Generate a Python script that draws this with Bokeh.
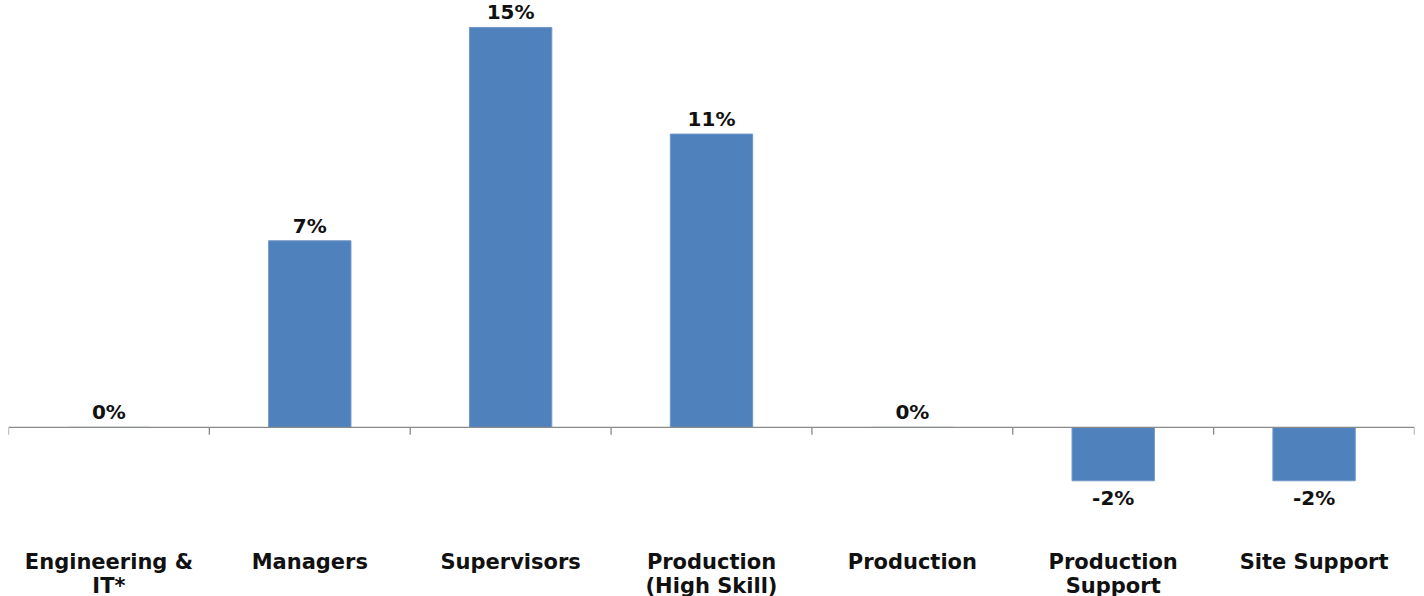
from bokeh.plotting import figure
from bokeh.models import ColumnDataSource, Span, FixedTicker, Range1d
from bokeh.embed import file_html
from bokeh.resources import INLINE
from bokeh.core.properties import value

categories = ["Engineering &\nIT*", "Managers", "Supervisors", "Production\n(High Skill)",
              "Production", "Production\nSupport", "Site Support"]
values = [0, 7, 15, 11, 0, -2, -2]
labels = ["0%", "7%", "15%", "11%", "0%", "-2%", "-2%"]

FONT = "DejaVu Sans"
n = len(categories)
xs = [i + 0.5 for i in range(n)]

pos = ColumnDataSource(dict(x=[x for x, v in zip(xs, values) if v >= 0],
                            top=[v for v in values if v >= 0],
                            lab=[l for l, v in zip(labels, values) if v >= 0]))
neg = ColumnDataSource(dict(x=[x for x, v in zip(xs, values) if v < 0],
                            top=[v for v in values if v < 0],
                            lab=[l for l, v in zip(labels, values) if v < 0]))

p = figure(frame_width=1406, frame_height=512, output_backend="svg", toolbar_location=None,
           x_range=Range1d(0, n), y_range=Range1d(-3.19, 16.01),
           y_axis_location=None, min_border_left=8, min_border_right=2,
           min_border_top=0, min_border_bottom=0, outline_line_color=None,
           background_fill_color="white", border_fill_color="white")
p.xgrid.visible = False
p.ygrid.visible = False

p.vbar(x="x", top="top", bottom=0, width=0.41, source=pos, fill_color="#4F81BD", line_color="#7096c8")
p.vbar(x="x", top="top", bottom=0, width=0.41, source=neg, fill_color="#4F81BD", line_color="#7096c8")

p.add_layout(Span(location=0, dimension="width", line_color="#8a8a8a", line_width=1.3))
bounds = list(range(n + 1))
p.segment(x0=bounds, y0=[0] * len(bounds), x1=bounds, y1=[-0.27] * len(bounds),
          line_color="#8a8a8a", line_width=1.3)

p.text(x="x", y="top", text="lab", source=pos, text_align="center", text_baseline="bottom",
       y_offset=-3, text_font=value(FONT), text_font_style="bold", text_font_size="20px",
       text_color="#111111")
p.text(x="x", y="top", text="lab", source=neg, text_align="center", text_baseline="top",
       y_offset=5, text_font=value(FONT), text_font_style="bold", text_font_size="20px",
       text_color="#111111")

ax = p.xaxis[0]
ax.ticker = FixedTicker(ticks=xs)
ax.major_label_overrides = {x: c for x, c in zip(xs, categories)}
ax.axis_line_color = None
ax.major_tick_line_color = None
ax.minor_tick_line_color = None
ax.major_tick_out = 0
ax.major_label_standoff = 37
ax.major_label_text_font = FONT
ax.major_label_text_font_style = "bold"
ax.major_label_text_font_size = "21px"
ax.major_label_text_color = "#111111"
ax.major_label_text_line_height = 1.03

open("out.html", "w").write(file_html(p, INLINE))
